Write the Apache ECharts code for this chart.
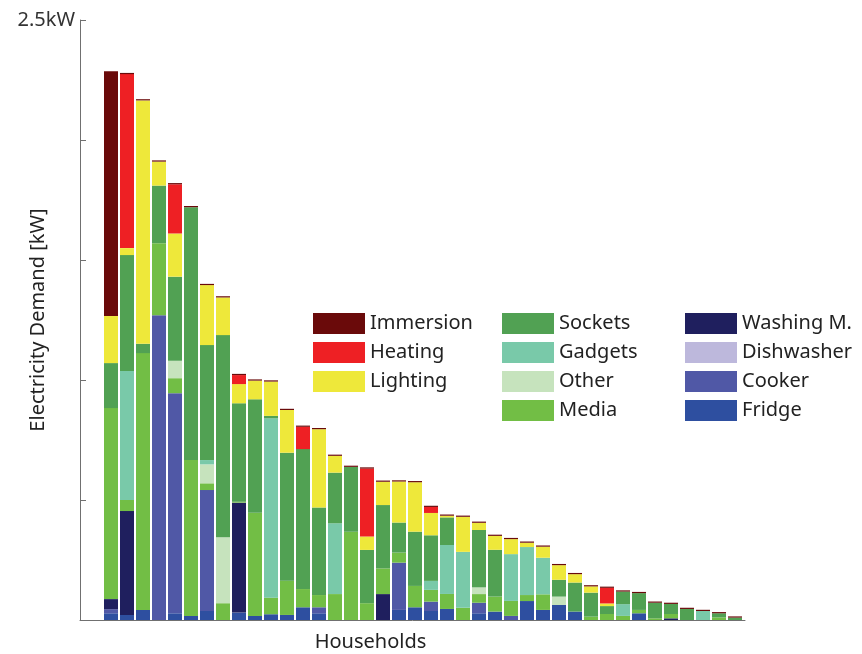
<!DOCTYPE html>
<html>
<head>
<meta charset="utf-8">
<script src="https://cdn.jsdelivr.net/npm/echarts@6/dist/echarts.min.js"></script>
<style>
  html, body { margin: 0; padding: 0; background: #fff; }
  #chart { width: 862px; height: 654px; }
</style>
</head>
<body>
<div id="chart"></div>
<script>
// households, sorted by total demand (kW)
const households = Array.from({ length: 40 }, (_, i) => 'H' + (i + 1))

const fridge = [0.028, 0.021, 0.042, 0, 0.028, 0.017, 0.0375, 0, 0.031, 0.017, 0.024, 0.021, 0.053, 0.028, 0, 0, 0, 0, 0.042, 0.053,
  0.0375, 0.046, 0, 0.028, 0.035, 0, 0.079, 0.042, 0.0625, 0.035, 0, 0, 0, 0.028, 0, 0, 0, 0, 0, 0]
const cooker = [0.017, 0, 0, 1.27, 0.917, 0, 0.504, 0, 0, 0, 0, 0, 0, 0.025, 0, 0, 0, 0, 0.197, 0,
  0.039, 0, 0, 0.044, 0, 0.017, 0, 0, 0, 0, 0, 0, 0, 0, 0, 0, 0, 0, 0, 0]
const dishwasher = [0, 0, 0, 0, 0, 0, 0, 0, 0, 0, 0, 0, 0, 0, 0, 0, 0, 0, 0, 0,
  0, 0, 0, 0, 0, 0, 0, 0, 0, 0, 0, 0, 0, 0, 0, 0, 0, 0, 0, 0]
const washing = [0.042, 0.433, 0, 0, 0, 0, 0, 0, 0.458, 0, 0, 0, 0, 0, 0, 0, 0, 0.108, 0, 0,
  0, 0, 0, 0, 0, 0, 0, 0, 0, 0, 0, 0, 0, 0, 0, 0.007, 0, 0, 0, 0]
const media = [0.796, 0.046, 1.07, 0.30, 0.0625, 0.65, 0.028, 0.07, 0.004, 0.43, 0.069, 0.143, 0.076, 0.051, 0.108, 0.368, 0.07, 0.107, 0.042, 0.089,
  0.049, 0.0625, 0.051, 0.036, 0.0625, 0.0625, 0.025, 0.065, 0, 0, 0.014, 0.025, 0.017, 0.014, 0.007, 0.018, 0, 0, 0.011, 0]
const other = [0, 0, 0, 0, 0.073, 0, 0.079, 0.275, 0, 0, 0, 0, 0, 0, 0, 0, 0, 0, 0, 0,
  0, 0, 0, 0.028, 0, 0, 0, 0, 0.035, 0, 0, 0, 0, 0, 0, 0, 0, 0, 0, 0]
const gadgets = [0, 0.5375, 0, 0, 0, 0, 0.018, 0, 0, 0, 0.7475, 0, 0, 0, 0.295, 0, 0, 0, 0, 0,
  0.0375, 0.204, 0.233, 0, 0, 0.195, 0.20, 0.1525, 0, 0, 0, 0, 0.049, 0, 0, 0, 0, 0.0375, 0, 0]
const sockets = [0.1875, 0.483, 0.039, 0.24, 0.35, 1.053, 0.479, 0.842, 0.41, 0.4725, 0.01, 0.533, 0.583, 0.365, 0.211, 0.27, 0.222, 0.264, 0.125, 0.226,
  0.19, 0.115, 0, 0.239, 0.195, 0, 0, 0, 0.07, 0.121, 0.10, 0.033, 0.0525, 0.07, 0.065, 0.042, 0.046, 0, 0.017, 0.01]
const lighting = [0.196, 0.029, 1.014, 0.10, 0.18, 0, 0.25, 0.157, 0.08, 0.078, 0.143, 0.178, 0, 0.326, 0.07, 0, 0.056, 0.097, 0.171, 0.206,
  0.093, 0.007, 0.146, 0.03, 0.058, 0.0625, 0.018, 0.046, 0.061, 0.035, 0.026, 0.011, 0, 0, 0, 0, 0, 0, 0, 0]
const heating = [0, 0.725, 0, 0, 0.205, 0, 0, 0, 0.0375, 0, 0, 0, 0.093, 0, 0, 0, 0.283, 0, 0, 0,
  0.025, 0, 0, 0, 0, 0, 0, 0, 0, 0, 0, 0.065, 0, 0, 0, 0, 0, 0, 0, 0]
const immersion = [1.02, 0.005, 0.005, 0.005, 0.005, 0.005, 0.005, 0.005, 0.005, 0.005, 0.005, 0.005, 0.005, 0.005, 0.005, 0.005, 0.005, 0.005, 0.005, 0.005,
  0.005, 0.005, 0.005, 0.005, 0.005, 0.005, 0.005, 0.005, 0.005, 0.005, 0.005, 0.005, 0.005, 0.005, 0.005, 0.005, 0.005, 0.005, 0.005, 0.005]

const yTicks = [0, 0.5, 1, 1.5, 2, 2.5]

// stacked bottom -> top
const layers = [
  { name: 'Fridge', data: fridge, color: '#2e4fa0' },
  { name: 'Cooker', data: cooker, color: '#5058a6' },
  { name: 'Dishwasher', data: dishwasher, color: '#bdb8dc' },
  { name: 'Washing M.', data: washing, color: '#1f1f5e' },
  { name: 'Media', data: media, color: '#72be45' },
  { name: 'Other', data: other, color: '#c6e3bd' },
  { name: 'Gadgets', data: gadgets, color: '#79c9a9' },
  { name: 'Sockets', data: sockets, color: '#51a153' },
  { name: 'Lighting', data: lighting, color: '#eee83a' },
  { name: 'Heating', data: heating, color: '#ee2024' },
  { name: 'Immersion', data: immersion, color: '#6a0a0a' },
]

const font = "'Noto Sans', 'Open Sans', sans-serif"
const axisColor = '#707070'
const legendText = { fontSize: 20, color: '#222', fontFamily: font }

function legendCol(left, names) {
  return {
    left, top: 313,
    padding: 0,
    orient: 'vertical',
    icon: 'rect',
    itemWidth: 52,
    itemHeight: 21,
    itemGap: 8,
    selectedMode: false,
    textStyle: legendText,
    data: names,
  }
}

const chart = echarts.init(document.getElementById('chart'))

chart.setOption({
  backgroundColor: '#ffffff',
  animation: false,
  grid: [
    { left: 103, width: 640, top: 20, height: 600, outerBoundsMode: 'none' },
    { left: 80, width: 665, top: 20, height: 600, outerBoundsMode: 'none' },
  ],
  legend: [
    legendCol(313, ['Immersion', 'Heating', 'Lighting']),
    legendCol(502, ['Sockets', 'Gadgets', 'Other', 'Media']),
    legendCol(685, ['Washing M.', 'Dishwasher', 'Cooker', 'Fridge']),
  ],
  xAxis: [
    {
      type: 'category', gridIndex: 0, data: households,
      axisLine: { show: false }, axisTick: { show: false }, axisLabel: { show: false },
    },
    {
      type: 'value', gridIndex: 1, min: 0, max: 1,
      axisLine: { show: true, onZero: false, lineStyle: { color: axisColor, width: 1 } },
      axisTick: { show: false }, axisLabel: { show: false }, splitLine: { show: false },
      name: 'Households', nameLocation: 'middle', nameGap: 12, nameMoveOverlap: false,
      // the title sits left of the axis centre in the original
      nameTextStyle: { fontSize: 20, color: '#222', fontFamily: font, padding: [0, 84, 0, 0] },
    },
  ],
  yAxis: [
    {
      type: 'value', gridIndex: 0, min: 0, max: 2.5,
      axisLine: { show: false }, axisTick: { show: false }, axisLabel: { show: false }, splitLine: { show: false },
    },
    {
      type: 'value', gridIndex: 1, min: yTicks[0], max: yTicks[yTicks.length - 1], interval: 0.5,
      axisLine: { show: true, lineStyle: { color: axisColor, width: 1 } },
      axisTick: { show: true, inside: true, length: 6, lineStyle: { color: axisColor } },
      axisLabel: {
        margin: 5, fontSize: 20, color: '#333', fontFamily: font,
        formatter: v => (v === 2.5 ? '2.5kW' : ''),
      },
      splitLine: { show: false },
      name: 'Electricity Demand [kW]', nameLocation: 'middle', nameGap: 32, nameMoveOverlap: false,
      nameTextStyle: { fontSize: 20, color: '#222', fontFamily: font },
    },
  ],
  series: layers.map(l => ({
    name: l.name,
    type: 'bar',
    stack: 'total',
    xAxisIndex: 0,
    yAxisIndex: 0,
    barWidth: 14,
    data: l.data,
    itemStyle: { color: l.color },
  })),
})
</script>
</body>
</html>
